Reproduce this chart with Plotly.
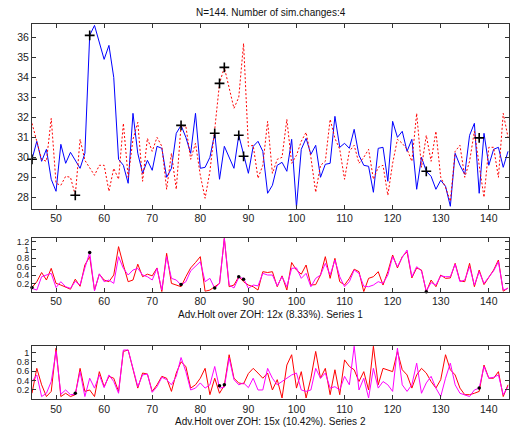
import plotly.graph_objects as go

t = list(range(45, 145))

blue_top = [29.9, 30.8, 29.8, 30.4, 28.9, 28.3, 30.65, 29.7, 30.25, 29.85,
            29.45, 30.2, 36.1, 36.6, 35.8, 34.9, 35.6, 34.0, 29.9, 29.6,
            28.7, 32.2, 30.2, 29.2, 29.85, 29.35, 30.55, 30.45, 29.0, 29.45,
            31.2, 31.6, 31.0, 30.2, 32.2, 29.45, 29.5, 30.0, 31.2, 28.9,
            30.55, 29.95, 29.45, 31.1, 30.1, 29.2, 30.55, 30.8, 30.3, 28.2,
            28.6, 29.6, 29.75, 29.3, 30.9, 27.5, 30.4, 30.95, 30.15, 30.6,
            29.0, 29.65, 29.7, 32.05, 30.5, 30.7, 30.45, 31.4, 30.1, 29.6,
            29.55, 28.25, 30.45, 30.5, 28.8, 31.8, 31.0, 31.3, 30.3, 30.9,
            28.4, 30.0, 29.3, 29.05, 28.4, 28.85, 28.55, 27.55, 30.2, 29.6,
            29.15, 31.1, 31.7, 28.2, 31.2, 29.6, 30.4, 30.5, 29.5, 30.3]

red_top = [31.7, 30.8, 29.9, 29.8, 31.95, 28.7, 28.6, 29.05, 29.0, 28.1,
           30.9, 29.85, 29.45, 29.1, 29.6, 29.6, 28.3, 29.45, 28.9, 31.7,
           29.0, 30.9, 31.75, 28.8, 30.95, 30.3, 31.0, 30.55, 28.4, 30.2,
           28.4, 31.6, 31.55, 29.9, 30.7, 29.1, 27.95, 29.3, 31.4, 33.7,
           34.5, 33.5, 32.45, 33.0, 35.7, 30.55, 30.6, 28.95, 29.6, 31.8,
           29.2, 29.9, 30.0, 31.9, 29.7, 30.1, 30.8, 31.25, 30.0, 28.25,
           29.6, 29.8, 31.9, 30.95, 30.4, 28.9, 30.3, 30.6, 29.7, 30.0,
           30.4, 28.9, 29.5, 29.6, 28.1, 29.7, 30.9, 30.7, 30.4, 29.8,
           32.2, 29.5, 31.1, 29.8, 31.3, 29.0, 28.5, 27.8, 30.3, 30.6,
           29.0, 29.8, 31.3, 29.6, 28.0, 30.5, 30.5, 29.0, 32.2, 31.0]

mark_top_x = [45, 54, 57, 76, 83, 84, 85, 88, 89, 127, 138]
mark_top_y = [29.9, 28.1, 36.1, 31.6, 31.2, 33.7, 34.5, 31.1, 30.05, 29.3, 30.97]

red_s1 = [0.10, 0.24, 0.46, 0.28, 0.56, 0.20, 0.16, 0.11, 0.06, 0.30,
          0.13, 0.64, 0.84, 0.04, 0.42, 0.28, 0.24, 0.40, 1.08, 0.64,
          0.24, 0.28, 0.66, 0.36, 0.42, 0.38, 0.57, 0.00, 0.92, 0.20,
          0.16, 0.12, 0.36, 0.57, 0.70, 0.84, 0.01, 0.04, 0.12, 0.20,
          1.28, 0.12, 0.16, 0.36, 0.24, 0.16, 0.12, 0.04, 0.48, 0.46,
          0.48, 0.12, 0.38, 0.04, 0.70, 0.52, 0.42, 0.64, 0.16, 0.17,
          0.40, 0.84, 0.32, 0.80, 0.24, 0.16, 0.32, 0.54, 0.48, 0.00,
          0.32, 0.36, 0.48, 0.16, 0.48, 0.88, 0.57, 0.84, 0.96, 0.33,
          0.57, 0.52, 0.00, 0.28, 0.12, 0.40, 0.32, 0.33, 0.68, 0.26,
          0.24, 0.68, 0.12, 0.52, 0.17, 0.36, 0.52, 0.76, 0.01, 0.09]

mag_s1 = [0.08, 0.04, 0.36, 0.40, 0.44, 0.10, 0.24, 0.12, 0.08, 0.25,
          0.16, 0.57, 0.94, 0.02, 0.43, 0.24, 0.28, 0.20, 0.84, 0.56,
          0.40, 0.52, 0.56, 0.40, 0.36, 0.28, 0.56, 0.04, 0.84, 0.32,
          0.28, 0.16, 0.24, 0.50, 0.60, 0.72, 0.24, 0.32, 0.08, 0.20,
          1.28, 0.16, 0.09, 0.34, 0.32, 0.08, 0.16, 0.14, 0.44, 0.40,
          0.40, 0.14, 0.36, 0.12, 0.56, 0.57, 0.32, 0.44, 0.12, 0.32,
          0.40, 0.68, 0.40, 0.76, 0.36, 0.12, 0.24, 0.52, 0.44, 0.13,
          0.12, 0.16, 0.24, 0.20, 0.40, 0.84, 0.60, 0.82, 1.00, 0.36,
          0.60, 0.50, 0.01, 0.22, 0.16, 0.38, 0.36, 0.36, 0.66, 0.24,
          0.28, 0.60, 0.16, 0.48, 0.20, 0.34, 0.50, 0.72, 0.04, 0.08]

mark_s1_x = [45, 57, 76, 83, 88, 89, 127]
mark_s1_y = [0.10, 0.94, 0.17, 0.09, 0.36, 0.30, 0.0]

red_s2 = [0.13, 0.66, 0.31, 0.06, 0.17, 1.09, 0.06, 0.13, 0.06, 0.10,
          0.66, 0.17, 0.20, 0.06, 0.59, 0.27, 0.49, 0.45, 0.17, 1.02,
          1.05, 0.63, 0.24, 0.56, 0.54, 0.17, 0.31, 0.49, 0.45, 0.17,
          0.56, 0.80, 0.70, 0.24, 0.31, 0.45, 0.66, 0.10, 0.45, 0.13,
          0.30, 0.95, 0.45, 0.35, 0.33, 0.55, 0.66, 0.56, 0.45, 0.56,
          0.20, 0.42, 0.03, 0.73, 0.95, 0.24, 0.59, 0.03, 0.45, 1.02,
          0.45, 0.66, 0.10, 0.63, 0.10, 0.84, 0.70, 0.63, 0.38, 0.59,
          0.20, 1.13, 0.31, 0.66, 0.63, 0.59, 1.02, 0.63, 0.52, 0.24,
          0.52, 0.66, 0.56, 0.38, 0.24, 0.42, 0.95, 0.63, 0.52, 0.24,
          0.10, 0.10, 0.13, 0.17, 0.73, 0.45, 0.45, 0.59, 0.06, 0.31]

mag_s2 = [0.38, 0.52, 0.06, 0.13, 0.38, 1.02, 0.11, 0.20, 0.10, 0.11,
          0.59, 0.06, 0.45, 0.24, 0.52, 0.25, 0.52, 0.38, 0.13, 1.05,
          1.05, 0.66, 0.27, 0.52, 0.54, 0.15, 0.27, 0.47, 0.42, 0.31,
          0.49, 0.89, 0.59, 0.20, 0.24, 0.35, 0.24, 0.31, 0.70, 0.24,
          0.26, 0.88, 0.42, 0.31, 0.35, 0.25, 0.45, 0.20, 0.20, 0.66,
          0.45, 0.31, 0.38, 0.45, 0.52, 0.56, 0.20, 0.17, 0.20, 0.66,
          0.45, 0.56, 0.24, 0.27, 0.20, 0.49, 0.31, 1.13, 0.20, 0.45,
          0.03, 0.66, 0.24, 0.38, 0.31, 0.17, 1.09, 0.31, 0.17, 0.31,
          0.77, 0.13, 0.35, 0.49, 0.24, 0.06, 0.45, 0.77, 0.31, 0.13,
          0.10, 0.06, 0.20, 0.24, 0.70, 0.45, 0.47, 0.52, 0.10, 0.27]

mark_s2_x = [54, 84, 85, 138]
mark_s2_y = [0.13, 0.29, 0.31, 0.24]

title_text = "N=144. Number of sim.changes:4"
xlabel_1 = "Adv.Holt over ZOH: 12x (8.33%). Series 1"
xlabel_2 = "Adv.Holt over ZOH: 15x (10.42%). Series 2"

FONT = "Liberation Sans, Arial, sans-serif"

fig = go.Figure()

# top panel
fig.add_trace(go.Scatter(x=t, y=blue_top, mode="lines", line=dict(color="#0000FF", width=1),
                         xaxis="x", yaxis="y", showlegend=False))
fig.add_trace(go.Scatter(x=t, y=red_top, mode="lines", line=dict(color="#FF0000", width=1, dash="2px,2px"),
                         xaxis="x", yaxis="y", showlegend=False))
fig.add_trace(go.Scatter(x=mark_top_x, y=mark_top_y, mode="markers",
                         marker=dict(symbol="cross-thin", size=7, line=dict(color="black", width=1.6)),
                         xaxis="x", yaxis="y", showlegend=False, cliponaxis=False))

# middle panel
fig.add_trace(go.Scatter(x=t, y=red_s1, mode="lines", line=dict(color="#FF0000", width=1),
                         xaxis="x2", yaxis="y2", showlegend=False))
fig.add_trace(go.Scatter(x=t, y=mag_s1, mode="lines", line=dict(color="#FF00FF", width=1),
                         xaxis="x2", yaxis="y2", showlegend=False))
fig.add_trace(go.Scatter(x=mark_s1_x, y=mark_s1_y, mode="markers",
                         marker=dict(symbol="circle", size=3.5, color="black"),
                         xaxis="x2", yaxis="y2", showlegend=False, cliponaxis=False))

# bottom panel
fig.add_trace(go.Scatter(x=t, y=red_s2, mode="lines", line=dict(color="#FF0000", width=1),
                         xaxis="x3", yaxis="y3", showlegend=False))
fig.add_trace(go.Scatter(x=t, y=mag_s2, mode="lines", line=dict(color="#FF00FF", width=1),
                         xaxis="x3", yaxis="y3", showlegend=False))
fig.add_trace(go.Scatter(x=mark_s2_x, y=mark_s2_y, mode="markers",
                         marker=dict(symbol="circle", size=3.5, color="black"),
                         xaxis="x3", yaxis="y3", showlegend=False, cliponaxis=False))

axis_common = dict(showline=True, linecolor="#333333", linewidth=1, mirror="ticks",
                   ticks="inside", ticklen=4, tickcolor="#333333", showgrid=False,
                   zeroline=False, automargin=False)
big_font = dict(tickfont=dict(family=FONT, size=10.5, color="#222222"))
small_font = dict(tickfont=dict(family=FONT, size=9, color="#222222"))

xvals = [50, 60, 70, 80, 90, 100, 110, 120, 130, 140]

fig.update_layout(
    width=512, height=430,
    margin=dict(l=32, r=3, t=0, b=0, autoexpand=False),
    paper_bgcolor="white", plot_bgcolor="white",
    font=dict(family=FONT, size=10.5, color="#222222"),
    xaxis=dict(domain=[0, 1], range=[45, 144.2], tickvals=xvals, anchor="y", **axis_common, **big_font),
    yaxis=dict(domain=[0.5147, 0.9442], range=[27.43, 36.67], tickvals=[28, 29, 30, 31, 32, 33, 34, 35, 36],
               anchor="x", **axis_common, **big_font),
    xaxis2=dict(domain=[0, 1], range=[45, 144.2], tickvals=xvals, anchor="y2", **axis_common, **big_font),
    yaxis2=dict(domain=[0.3216, 0.4458], range=[0, 1.28], tickvals=[0.2, 0.4, 0.6, 0.8, 1, 1.2],
                ticktext=["0.2", "0.4", "0.6", "0.8", "1", "1.2"], anchor="x2", **axis_common, **small_font),
    xaxis3=dict(domain=[0, 1], range=[45, 144.2], tickvals=xvals, anchor="y3", **axis_common, **big_font),
    yaxis3=dict(domain=[0.0712, 0.1953], range=[0, 1.135], tickvals=[0.2, 0.4, 0.6, 0.8, 1],
                ticktext=["0.2", "0.4", "0.6", "0.8", "1"], anchor="x3", **axis_common, **small_font),
    annotations=[
        dict(text=title_text, x=0.5, y=1 - 13 / 430, xref="paper", yref="paper",
             showarrow=False, xanchor="center", yanchor="middle", font=dict(family=FONT, size=10, color="#111111")),
        dict(text=xlabel_1, x=0.5, y=1 - 314 / 430, xref="paper", yref="paper",
             showarrow=False, xanchor="center", yanchor="middle", font=dict(family=FONT, size=10, color="#111111")),
        dict(text=xlabel_2, x=0.5, y=1 - 421 / 430, xref="paper", yref="paper",
             showarrow=False, xanchor="center", yanchor="middle", font=dict(family=FONT, size=10, color="#111111")),
    ],
)

fig.write_html("out.html", config={"displayModeBar": False},
               post_script="document.body.style.margin='0';document.body.style.overflow='hidden';")
